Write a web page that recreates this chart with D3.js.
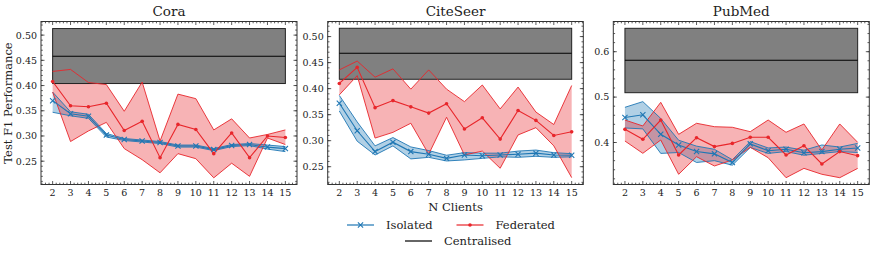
<!DOCTYPE html>
<html>
<head>
<meta charset="utf-8">
<script src="https://cdn.jsdelivr.net/npm/d3@7"></script>
<style>
  html, body { margin: 0; padding: 0; background: #fff; }
  svg { display: block; }
</style>
</head>
<body>
<svg id="chart" width="872" height="257"></svg>
<script>
// ---------------- data ----------------
const clients = [2, 3, 4, 5, 6, 7, 8, 9, 10, 11, 12, 13, 14, 15];
const datasets = ["Cora", "CiteSeer", "PubMed"];

const coraIsoMean  = [0.370, 0.344, 0.339, 0.302, 0.293, 0.290, 0.287, 0.280, 0.280, 0.273, 0.281, 0.283, 0.278, 0.275];
const coraIsoUpper = [0.387, 0.348, 0.343, 0.305, 0.295, 0.292, 0.289, 0.282, 0.282, 0.275, 0.283, 0.285, 0.282, 0.279];
const coraIsoLower = [0.347, 0.340, 0.335, 0.298, 0.291, 0.288, 0.285, 0.278, 0.278, 0.271, 0.279, 0.281, 0.274, 0.269];
const coraFedMean  = [0.408, 0.360, 0.358, 0.365, 0.311, 0.329, 0.257, 0.323, 0.313, 0.265, 0.306, 0.257, 0.300, 0.297];
const coraFedUpper = [0.428, 0.432, 0.406, 0.402, 0.349, 0.407, 0.290, 0.383, 0.374, 0.312, 0.334, 0.296, 0.303, 0.312];
const coraFedLower = [0.387, 0.289, 0.310, 0.327, 0.275, 0.253, 0.227, 0.265, 0.255, 0.217, 0.246, 0.220, 0.296, 0.283];
const coraCentral  = [0.404, 0.458, 0.513]; // lower, mean, upper

const citeIsoMean  = [0.372, 0.319, 0.279, 0.297, 0.279, 0.274, 0.266, 0.2725, 0.271, 0.2725, 0.274, 0.276, 0.2725, 0.272];
const citeIsoUpper = [0.387, 0.336, 0.290, 0.306, 0.288, 0.281, 0.272, 0.277, 0.276, 0.276, 0.280, 0.282, 0.277, 0.275];
const citeIsoLower = [0.357, 0.299, 0.2725, 0.290, 0.265, 0.268, 0.261, 0.263, 0.266, 0.269, 0.268, 0.270, 0.268, 0.269];
const citeFedMean  = [0.410, 0.441, 0.3635, 0.377, 0.365, 0.353, 0.371, 0.3225, 0.344, 0.303, 0.358, 0.339, 0.310, 0.317];
const citeFedUpper = [0.436, 0.453, 0.422, 0.438, 0.399, 0.436, 0.399, 0.375, 0.407, 0.361, 0.403, 0.355, 0.331, 0.406];
const citeFedLower = [0.388, 0.425, 0.305, 0.316, 0.3335, 0.274, 0.345, 0.2725, 0.280, 0.247, 0.311, 0.325, 0.290, 0.229];
const citeCentral  = [0.418, 0.468, 0.516];

const pubIsoMean  = [0.455, 0.461, 0.418, 0.3945, 0.380, 0.375, 0.356, 0.397, 0.382, 0.385, 0.3775, 0.380, 0.385, 0.388];
const pubIsoUpper = [0.4775, 0.490, 0.453, 0.405, 0.392, 0.385, 0.362, 0.402, 0.388, 0.390, 0.383, 0.3945, 0.390, 0.398];
const pubIsoLower = [0.432, 0.430, 0.376, 0.378, 0.356, 0.360, 0.350, 0.389, 0.376, 0.380, 0.372, 0.376, 0.380, 0.378];
const pubFedMean  = [0.429, 0.407, 0.4495, 0.3725, 0.4106, 0.391, 0.398, 0.4115, 0.4115, 0.3725, 0.393, 0.3527, 0.380, 0.371];
const pubFedUpper = [0.4495, 0.4364, 0.4885, 0.418, 0.4423, 0.4348, 0.4335, 0.4238, 0.4495, 0.4225, 0.4408, 0.3835, 0.4408, 0.4004];
const pubFedLower = [0.4033, 0.3762, 0.4055, 0.330, 0.3687, 0.3483, 0.3615, 0.3894, 0.3665, 0.3225, 0.343, 0.330, 0.3225, 0.343];
const pubCentral  = [0.5097, 0.581, 0.6515];

const coraYTicks = [0.25, 0.30, 0.35, 0.40, 0.45, 0.50];
const citeYTicks = [0.25, 0.30, 0.35, 0.40, 0.45, 0.50];
const pubYTicks  = [0.4, 0.5, 0.6];

const legendLabels = ["Isolated", "Federated", "Centralised"];
const xLabel = "N Clients";
const yLabel = "Test F1 Performance";

// ---------------- layout ----------------
const FONT = "'DejaVu Serif', serif";
const blue = "#1f77b4", red = "#e8262b";
const topY = 21.5, bottomY = 184.5;
const panels = [
  { name: datasets[0], left: 41, right: 297, ydom: [0.2038, 0.527], yt: coraYTicks, fmt: d3.format(".2f"), minorStep: 0.01,
    iso: [coraIsoMean, coraIsoLower, coraIsoUpper], fed: [coraFedMean, coraFedLower, coraFedUpper], cen: coraCentral },
  { name: datasets[1], left: 327.7, right: 583.3, ydom: [0.2158, 0.529], yt: citeYTicks, fmt: d3.format(".2f"), minorStep: 0.01,
    iso: [citeIsoMean, citeIsoLower, citeIsoUpper], fed: [citeFedMean, citeFedLower, citeFedUpper], cen: citeCentral },
  { name: datasets[2], left: 613.3, right: 869.3, ydom: [0.3075, 0.6665], yt: pubYTicks, fmt: d3.format(".1f"), minorStep: 0.02,
    iso: [pubIsoMean, pubIsoLower, pubIsoUpper], fed: [pubFedMean, pubFedLower, pubFedUpper], cen: pubCentral }
];

const svg = d3.select("#chart");

function txt(sel) { return sel.style("font-family", FONT).style("fill", "#222"); }

panels.forEach(p => {
  const x = d3.scaleLinear().domain([1.35, 15.65]).range([p.left, p.right]);
  const y = d3.scaleLinear().domain(p.ydom).range([bottomY, topY]);
  const g = svg.append("g");
  const clipId = "clip-" + p.name;
  svg.append("clipPath").attr("id", clipId).append("rect")
    .attr("x", p.left).attr("y", topY).attr("width", p.right - p.left).attr("height", bottomY - topY);
  const plot = g.append("g").attr("clip-path", `url(#${clipId})`);

  const rows = s => clients.map((c, i) => ({ c, m: s[0][i], lo: s[1][i], hi: s[2][i] }));
  const area = d3.area().x(d => x(d.c)).y0(d => y(d.lo)).y1(d => y(d.hi));
  const lineM = d3.line().x(d => x(d.c)).y(d => y(d.m));
  const lineLo = d3.line().x(d => x(d.c)).y(d => y(d.lo));
  const lineHi = d3.line().x(d => x(d.c)).y(d => y(d.hi));

  const iso = rows(p.iso), fed = rows(p.fed);

  // fills
  plot.append("path").datum(iso).attr("d", area).attr("fill", blue).attr("fill-opacity", 0.35);
  plot.append("path").datum(fed).attr("d", area).attr("fill", red).attr("fill-opacity", 0.35);

  // centralised band
  const c0 = clients[0], c1 = clients[clients.length - 1];
  plot.append("rect")
    .attr("x", x(c0)).attr("width", x(c1) - x(c0))
    .attr("y", y(p.cen[2])).attr("height", y(p.cen[0]) - y(p.cen[2]))
    .attr("fill", "#808080").attr("stroke", "#222").attr("stroke-width", 1);
  plot.append("line")
    .attr("x1", x(c0)).attr("x2", x(c1)).attr("y1", y(p.cen[1])).attr("y2", y(p.cen[1]))
    .attr("stroke", "#000").attr("stroke-width", 1.1);

  // band edges
  [[iso, blue], [fed, red]].forEach(([d, col]) => {
    plot.append("path").datum(d).attr("d", lineLo).attr("fill", "none").attr("stroke", col).attr("stroke-width", 0.9);
    plot.append("path").datum(d).attr("d", lineHi).attr("fill", "none").attr("stroke", col).attr("stroke-width", 0.9);
  });
  // mean lines
  plot.append("path").datum(iso).attr("d", lineM).attr("fill", "none").attr("stroke", blue).attr("stroke-width", 1.1);
  plot.append("path").datum(fed).attr("d", lineM).attr("fill", "none").attr("stroke", red).attr("stroke-width", 1.1);

  // markers
  const s = 2.6;
  plot.selectAll(".xm").data(iso).join("path")
    .attr("d", d => `M${x(d.c)-s},${y(d.m)-s}L${x(d.c)+s},${y(d.m)+s}M${x(d.c)-s},${y(d.m)+s}L${x(d.c)+s},${y(d.m)-s}`)
    .attr("stroke", blue).attr("stroke-width", 1.1).attr("fill", "none");
  plot.selectAll(".dm").data(fed).join("circle")
    .attr("cx", d => x(d.c)).attr("cy", d => y(d.m)).attr("r", 1.8).attr("fill", red);

  // frame
  g.append("rect").attr("x", p.left).attr("y", topY).attr("width", p.right - p.left).attr("height", bottomY - topY)
    .attr("fill", "none").attr("stroke", "#333").attr("stroke-width", 1);

  // ticks (inward, all sides)
  const tk = g.append("g").attr("stroke", "#333").attr("stroke-width", 0.8);
  clients.forEach(c => {
    tk.append("line").attr("x1", x(c)).attr("x2", x(c)).attr("y1", bottomY).attr("y2", bottomY - 3.5);
    tk.append("line").attr("x1", x(c)).attr("x2", x(c)).attr("y1", topY).attr("y2", topY + 3.5);
  });
  d3.range(1.4, 15.65, 0.2).forEach(v => {
    if (Math.abs(v - Math.round(v)) < 1e-6) return;
    tk.append("line").attr("x1", x(v)).attr("x2", x(v)).attr("y1", bottomY).attr("y2", bottomY - 1.8);
    tk.append("line").attr("x1", x(v)).attr("x2", x(v)).attr("y1", topY).attr("y2", topY + 1.8);
  });
  p.yt.forEach(v => {
    tk.append("line").attr("x1", p.left).attr("x2", p.left + 3.5).attr("y1", y(v)).attr("y2", y(v));
    tk.append("line").attr("x1", p.right).attr("x2", p.right - 3.5).attr("y1", y(v)).attr("y2", y(v));
  });
  const start = Math.ceil(p.ydom[0] / p.minorStep) * p.minorStep;
  d3.range(start, p.ydom[1], p.minorStep).forEach(v => {
    tk.append("line").attr("x1", p.left).attr("x2", p.left + 1.8).attr("y1", y(v)).attr("y2", y(v));
    tk.append("line").attr("x1", p.right).attr("x2", p.right - 1.8).attr("y1", y(v)).attr("y2", y(v));
  });

  // tick labels
  txt(g.selectAll(".xl").data(clients).join("text")
    .attr("x", d => x(d)).attr("y", bottomY + 11.5).attr("text-anchor", "middle")
    .attr("font-size", 9.5).text(d => d));
  txt(g.selectAll(".yl").data(p.yt).join("text")
    .attr("x", p.left - 4).attr("y", d => y(d) + 3.4).attr("text-anchor", "end")
    .attr("font-size", 9.5).text(d => p.fmt(d)));

  // title
  txt(g.append("text").attr("x", (p.left + p.right) / 2).attr("y", 16).attr("text-anchor", "middle")
    .attr("font-size", 13.5).text(p.name));
});

// axis labels
txt(svg.append("text").attr("x", 455.5).attr("y", 211).attr("text-anchor", "middle").attr("font-size", 11.5).text(xLabel));
txt(svg.append("text").attr("transform", "translate(12,103) rotate(-90)").attr("text-anchor", "middle")
  .attr("font-size", 11.5).text(yLabel));

// legend
const leg = svg.append("g");
function legItem(x0, yy, col, marker, label) {
  leg.append("line").attr("x1", x0).attr("x2", x0 + 27).attr("y1", yy).attr("y2", yy)
    .attr("stroke", col).attr("stroke-width", 1.2);
  const cx = x0 + 13.5;
  if (marker === "x") {
    const s = 2.6;
    leg.append("path").attr("d", `M${cx-s},${yy-s}L${cx+s},${yy+s}M${cx-s},${yy+s}L${cx+s},${yy-s}`)
      .attr("stroke", col).attr("stroke-width", 1.1);
  } else if (marker === "o") {
    leg.append("circle").attr("cx", cx).attr("cy", yy).attr("r", 1.8).attr("fill", col);
  }
  txt(leg.append("text").attr("x", x0 + 39).attr("y", yy + 4.2).attr("font-size", 11.5).text(label));
}
legItem(347, 225, blue, "x", legendLabels[0]);
legItem(456.5, 225, red, "o", legendLabels[1]);
legItem(405, 241, "#000", null, legendLabels[2]);
</script>
</body>
</html>
